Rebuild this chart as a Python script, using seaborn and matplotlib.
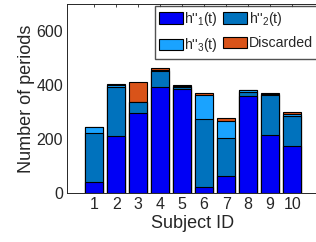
import numpy as np
import pandas as pd
import matplotlib
matplotlib.use('Agg')
import matplotlib.pyplot as plt
import seaborn as sns

''' DATA '''
subjects = ['1', '2', '3', '4', '5', '6', '7', '8', '9', '10']
h1 = [41, 212, 295, 394, 384, 20, 62, 359, 214, 173]
h2 = [179, 179, 40, 58, 7, 253, 141, 15, 150, 110]
h3 = [24, 8, 3, 5, 4, 88, 62, 6, 3, 10]
discarded = [0, 3, 72, 4, 5, 10, 11, 1, 3, 6]
labels = ["h''$_1$(t)", "h''$_2$(t)", "h''$_3$(t)", 'Discarded']
colors = ['#0000F5', '#0072BD', '#1AA3FF', '#D95319']

''' STYLE '''
sns.set_style('white')
plt.rcParams['font.family'] = ['Liberation Sans', 'DejaVu Sans']
plt.rcParams['mathtext.default'] = 'regular'

df = pd.DataFrame({'subject': subjects, 'h1': h1, 'h2': h2,
                   'h3': h3, 'disc': discarded})
# cumulative tops, drawn back to front
df['c1'] = df['h1']
df['c2'] = df['c1'] + df['h2']
df['c3'] = df['c2'] + df['h3']
df['c4'] = df['c3'] + df['disc']

fig = plt.figure(figsize=(3.16, 2.42), dpi=100)
ax = fig.add_axes([0.213, 0.204, 0.795, 0.779])

for col, lab, c in zip(['c4', 'c3', 'c2', 'c1'], labels[::-1], colors[::-1]):
    sns.barplot(data=df, x='subject', y=col, order=subjects, color=c,
                saturation=1, width=0.8, edgecolor='black', linewidth=0.8,
                label=lab, ax=ax)

ax.set_xlim(-1.22, 10.2)
ax.set_ylim(0, 700)
ax.set_yticks([0, 200, 400, 600])
ax.set_xlabel('Subject ID', fontsize=13, color='#262626', labelpad=2)
ax.set_ylabel('Number of periods', fontsize=13, color='#262626', labelpad=1)
ax.tick_params(direction='in', length=2.5, width=0.6, labelsize=11.5,
               colors='#262626', top=True, right=True, pad=3)
for s in ax.spines.values():
    s.set_color('#262626')
    s.set_linewidth(0.7)

h, l = ax.get_legend_handles_labels()
d = dict(zip(l, h))
order = [labels[0], labels[2], labels[1], labels[3]]
ax.legend([d[k] for k in order], order, ncol=2, loc='upper right',
          fontsize=10.2, frameon=True, fancybox=False, edgecolor='#262626',
          borderaxespad=0.1, handlelength=1.7, handleheight=0.9,
          columnspacing=0.35, handletextpad=0.1, labelspacing=0.6,
          borderpad=0.3)

plt.savefig('out.png', dpi=100)
